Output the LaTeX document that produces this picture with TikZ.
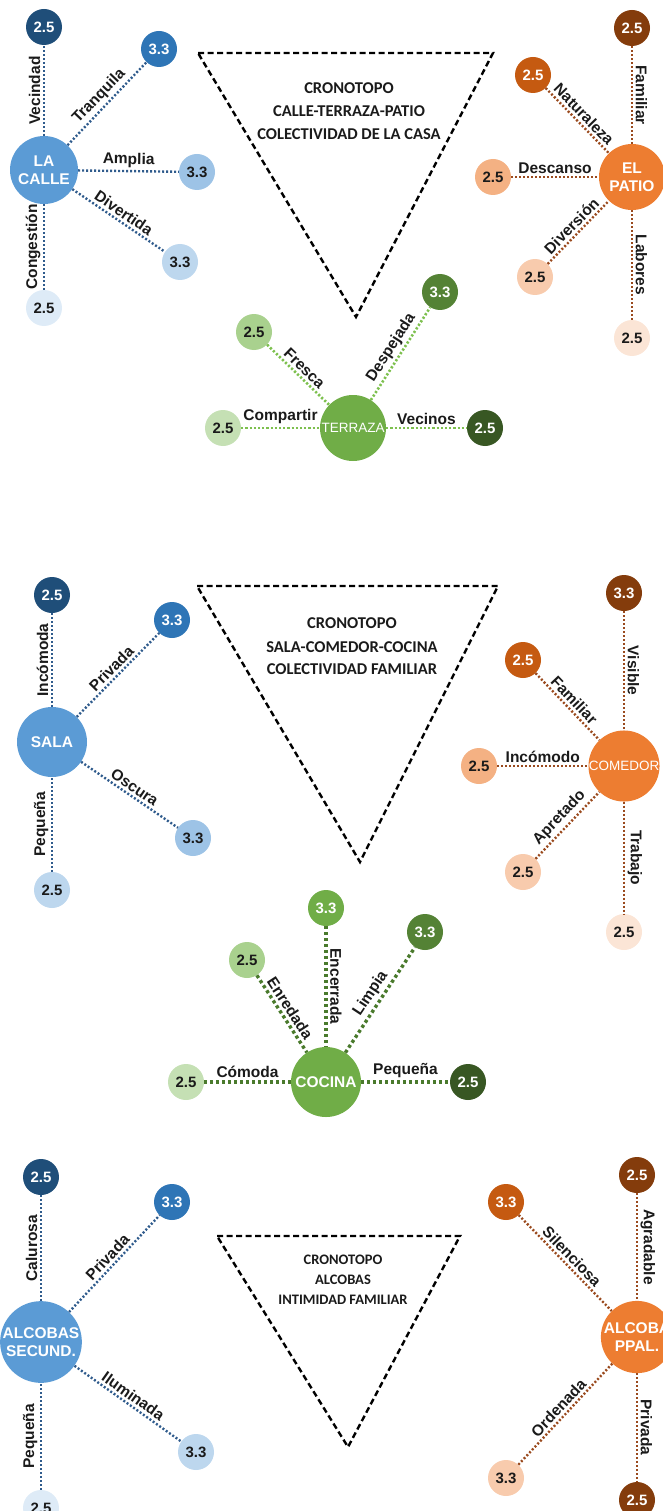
\documentclass[tikz,border=0pt]{standalone}
\usepackage{fontspec}
\setmainfont{Liberation Sans}
\newfontfamily\calib{Carlito}
\definecolor{b1}{HTML}{1F4E79}
\definecolor{b2}{HTML}{2E75B6}
\definecolor{b3}{HTML}{5B9BD5}
\definecolor{b4}{HTML}{9DC3E6}
\definecolor{b5}{HTML}{BDD7EE}
\definecolor{b6}{HTML}{DEEBF7}
\definecolor{o1}{HTML}{843C0C}
\definecolor{o2}{HTML}{C55A11}
\definecolor{o3}{HTML}{ED7D31}
\definecolor{o4}{HTML}{F4B183}
\definecolor{o5}{HTML}{F8CBAD}
\definecolor{o6}{HTML}{FBE5D6}
\definecolor{g1}{HTML}{385723}
\definecolor{g2}{HTML}{548235}
\definecolor{g3}{HTML}{70AD47}
\definecolor{g4}{HTML}{A9D18E}
\definecolor{g5}{HTML}{C5E0B4}
\definecolor{blline}{HTML}{2F5B8C}
\definecolor{brline}{HTML}{9A4A1E}
\definecolor{tgline}{HTML}{7DC04E}
\definecolor{kgline}{HTML}{4A7A2C}
\definecolor{txt}{HTML}{1A1A1A}
\begin{document}
\begin{tikzpicture}[x=1pt,y=-1pt,
  leaf/.style={circle, minimum size=36pt, inner sep=0pt, text=txt,
    font=\bfseries\fontsize{15}{15}\selectfont},
  dleaf/.style={leaf, text=white},
  hub/.style={circle, minimum size=68pt, inner sep=0pt, text=white, align=center,
    font=\bfseries\fontsize{15.5}{18}\selectfont},
  lbl/.style={font=\bfseries\fontsize{15.5}{15.5}\selectfont, text=txt, inner sep=2.5pt},
  sl/.style={midway, sloped, above, lbl},
  vl/.style={midway, rotate=90, above, lbl},
  vr/.style={midway, rotate=-90, above, lbl},
  bl/.style={draw=blline, line width=2.4pt, dash pattern=on 2pt off 2pt},
  br/.style={draw=brline, line width=2.4pt, dash pattern=on 2pt off 2pt},
  tg/.style={draw=tgline, line width=2.6pt, dash pattern=on 2.2pt off 2pt},
  kg/.style={draw=kgline, line width=3.4pt, dash pattern=on 3.2pt off 2.8pt},
  tri/.style={draw=black, line width=2.4pt, dash pattern=on 6pt off 3.5pt, line join=miter},
  tt/.style={text=txt, font=\calib\bfseries\fontsize{16.5}{16.5}\selectfont},
  ts/.style={text=txt, font=\calib\bfseries\fontsize{14.5}{14.5}\selectfont}
]
\useasboundingbox (0,0) rectangle (663,1511);
\clip (0,0) rectangle (663,1511);

% ---------- Section 1 ----------
\draw[tri] (198,53) -- (493,53) -- (356,317) -- cycle;
\node[tt] (tA1) at (349,88) {CRONOTOPO};
\node[tt] (tA2) at (349,111) {CALLE-TERRAZA-PATIO};
\node[tt] (tA3) at (349,134) {COLECTIVIDAD DE LA CASA};

\node[hub, fill=b3] (calle) at (44,170) {LA\\CALLE};
\node[dleaf, fill=b1] (c1) at (44,27) {2.5};
\node[dleaf, fill=b2] (c2) at (159,49) {3.3};
\node[leaf, fill=b4] (c3) at (197,172) {3.3};
\node[leaf, fill=b5] (c4) at (180,262) {3.3};
\node[leaf, fill=b6] (c5) at (44,308) {2.5};
\draw[bl] (calle) -- node[vl] {Vecindad} (c1);
\draw[bl] (calle) -- node[sl] {Tranquila} (c2);
\draw[bl] (calle) -- node[sl] {Amplia} (c3);
\draw[bl] (calle) -- node[sl] {Divertida} (c4);
\draw[bl] (c5) -- node[vl] {Congestión} (calle);

\node[hub, fill=o3, minimum size=66pt] (patio) at (632,177) {EL\\PATIO};
\node[dleaf, fill=o1] (p1) at (632,28) {2.5};
\node[dleaf, fill=o2] (p2) at (533,75) {2.5};
\node[leaf, fill=o4] (p3) at (493,177) {2.5};
\node[leaf, fill=o5] (p4) at (535,277) {2.5};
\node[leaf, fill=o6] (p5) at (632,338) {2.5};
\draw[br] (p1) -- node[vr] {Familiar} (patio);
\draw[br] (p2) -- node[sl] {Naturaleza} (patio);
\draw[br] (p3) -- node[sl] {Descanso} (patio);
\draw[br] (p4) -- node[sl] {Diversión} (patio);
\draw[br] (patio) -- node[vr] {Labores} (p5);

\node[hub, fill=g3, minimum size=66pt, font=\fontsize{13.5}{15}\selectfont] (terraza) at (353,428) {TERRAZA};
\node[leaf, fill=g4] (t1) at (254,332) {2.5};
\node[dleaf, fill=g2] (t2) at (440,292) {3.3};
\node[leaf, fill=g5] (t3) at (223,428) {2.5};
\node[dleaf, fill=g1] (t4) at (485,428) {2.5};
\draw[tg] (t1) -- node[sl] {Fresca} (terraza);
\draw[tg] (terraza) -- node[sl] {Despejada} (t2);
\draw[tg] (t3) -- node[sl] {Compartir} (terraza);
\draw[tg] (terraza) -- node[sl] {Vecinos} (t4);

% ---------- Section 2 ----------
\draw[tri] (197,586) -- (498,586) -- (360,862) -- cycle;
\node[tt] (tB1) at (352,623) {CRONOTOPO};
\node[tt] (tB2) at (352,647) {SALA-COMEDOR-COCINA};
\node[tt] (tB3) at (352,669) {COLECTIVIDAD FAMILIAR};

\node[hub, fill=b3, minimum size=70pt] (sala) at (52,742) {SALA};
\node[dleaf, fill=b1] (s1) at (52,595) {2.5};
\node[dleaf, fill=b2] (s2) at (172,620) {3.3};
\node[leaf, fill=b4] (s3) at (193,838) {3.3};
\node[leaf, fill=b5] (s4) at (52,890) {2.5};
\draw[bl] (sala) -- node[vl] {Incómoda} (s1);
\draw[bl] (sala) -- node[sl] {Privada} (s2);
\draw[bl] (sala) -- node[sl] {Oscura} (s3);
\draw[bl] (s4) -- node[vl] {Pequeña} (sala);

\node[hub, fill=o3, font=\fontsize{13.5}{15}\selectfont] (comedor) at (624,766) {COMEDOR};
\node[dleaf, fill=o1] (m1) at (624,593) {3.3};
\node[dleaf, fill=o2] (m2) at (523,660) {2.5};
\node[leaf, fill=o4] (m3) at (479,766) {2.5};
\node[leaf, fill=o5] (m4) at (523,872) {2.5};
\node[leaf, fill=o6] (m5) at (624,932) {2.5};
\draw[br] (m1) -- node[vr] {Visible} (comedor);
\draw[br] (m2) -- node[sl] {Familiar} (comedor);
\draw[br] (m3) -- node[sl] {Incómodo} (comedor);
\draw[br] (m4) -- node[sl] {Apretado} (comedor);
\draw[br] (comedor) -- node[vr] {Trabajo} (m5);

\node[hub, fill=g3, minimum size=70pt] (cocina) at (326,1082) {COCINA};
\node[leaf, fill=g5] (k1) at (186,1082) {2.5};
\node[leaf, fill=g4] (k2) at (247,960) {2.5};
\node[dleaf, fill=g3] (k3) at (326,908) {3.3};
\node[dleaf, fill=g2] (k4) at (425,932) {3.3};
\node[dleaf, fill=g1] (k5) at (468,1082) {2.5};
\draw[kg] (k1) -- node[sl] {Cómoda} (cocina);
\draw[kg] (k2) -- node[sl] {Enredada} (cocina);
\draw[kg] (k3) -- node[vr] {Encerrada} (cocina);
\draw[kg] (cocina) -- node[sl] {Limpia} (k4);
\draw[kg] (cocina) -- node[sl] {Pequeña} (k5);

% ---------- Section 3 ----------
\draw[tri] (217,1236) -- (460,1236) -- (348,1447) -- cycle;
\node[ts] (tC1) at (343,1260) {CRONOTOPO};
\node[ts] (tC2) at (343,1280) {ALCOBAS};
\node[ts] (tC3) at (343,1300) {INTIMIDAD FAMILIAR};

\node[hub, fill=b3, minimum size=74pt] (secund) at (41,1342) {ALCOBAS\\SECUND.};
\node[dleaf, fill=b1] (a1) at (41,1177) {2.5};
\node[dleaf, fill=b2] (a2) at (172,1202) {3.3};
\node[leaf, fill=b5] (a3) at (196,1452) {3.3};
\node[leaf, fill=b6] (a4) at (41,1508) {2.5};
\draw[bl] (secund) -- node[vl] {Calurosa} (a1);
\draw[bl] (secund) -- node[sl] {Privada} (a2);
\draw[bl] (secund) -- node[sl] {Iluminada} (a3);
\draw[bl] (a4) -- node[vl] {Pequeña} (secund);

\node[hub, fill=o3, minimum size=72pt] (ppal) at (637,1337) {ALCOBA\\PPAL.};
\node[dleaf, fill=o1] (q1) at (637,1175) {2.5};
\node[dleaf, fill=o2] (q2) at (506,1202) {3.3};
\node[leaf, fill=o5] (q3) at (506,1478) {3.3};
\node[dleaf, fill=o1] (q4) at (637,1500) {2.5};
\draw[br] (q1) -- node[vr] {Agradable} (ppal);
\draw[br] (q2) -- node[sl] {Silenciosa} (ppal);
\draw[br] (q3) -- node[sl] {Ordenada} (ppal);
\draw[br] (ppal) -- node[vr] {Privada} (q4);
\end{tikzpicture}
\end{document}
